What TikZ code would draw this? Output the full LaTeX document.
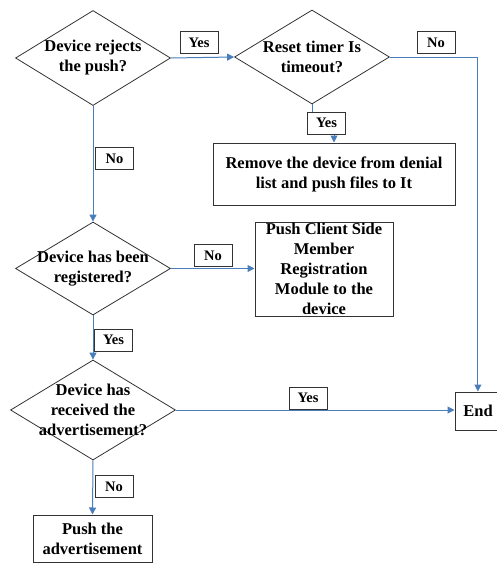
\documentclass[tikz,border=0pt]{standalone}
\usepackage{fontspec}
\setmainfont{Liberation Serif}
\usetikzlibrary{shapes.geometric,arrows.meta,calc}
\definecolor{flow}{HTML}{4A7EBB}
\definecolor{edge}{HTML}{333333}
\begin{document}
\begin{tikzpicture}[x=1pt,y=-1pt,
  txt/.style={font=\fontsize{16.5}{20}\selectfont\bfseries, align=center, inner sep=0pt, text=black},
  dia/.style={diamond, draw=edge, line width=0.8pt, inner sep=0pt, aspect=1.6},
  box/.style={rectangle, draw=edge, line width=1pt, inner sep=0pt},
  tag/.style={rectangle, draw=edge, line width=1pt, minimum width=38pt, minimum height=22pt, inner sep=0pt, font=\fontsize{14.5}{16}\selectfont\bfseries, text=black},
  arr/.style={draw=flow, line width=1pt, -{Triangle[width=7pt,length=7pt]}},
  ln/.style={draw=flow, line width=1pt}]
\useasboundingbox (0,0) rectangle (497,563);
% decisions
\node[dia, minimum width=155pt, minimum height=95pt,
  label={[txt]center:Device rejects\\the push?}] (d1) at (93,58) {};
\node[dia, minimum width=155pt, minimum height=94pt,
  label={[txt]center:Reset timer Is\\timeout?}] (d2) at (312,57) {};
\node[dia, minimum width=155pt, minimum height=93pt,
  label={[txt]center:Device has been\\registered?}] (d3) at (93,268.5) {};
\node[dia, minimum width=165pt, minimum height=100pt,
  label={[txt]center:Device has\\received the\\advertisement?}] (d4) at (93,410) {};
% processes
\node[box, minimum width=242pt, minimum height=62pt,
  label={[txt]center:Remove the device from denial\\list and push files to It}] (rm) at (334,174) {};
\node[box, minimum width=138pt, minimum height=94pt,
  label={[txt]center:Push Client Side\\Member\\Registration\\Module to the\\device}] (pc) at (324,269) {};
\node[box, minimum width=46pt, minimum height=38pt] (end) at (478,411) {};
\node[txt] (endt) at (478,411) {End};
\node[box, minimum width=119pt, minimum height=47pt,
  label={[txt]center:Push the\\advertisement}] (pa) at (92.5,538.5) {};
% connectors
\draw[arr] (d1.east) -- (d2.west);
\draw[ln] (d2.east) -- ++(88,0) coordinate (c1);
\draw[arr] (c1) -- (c1 |- end.north);
\draw[ln] (d2.south) -- ++(0,8) coordinate (c2);
\draw[arr] ($(c2)+(22,22)$) coordinate (c3) -- (c3 |- rm.north);
\draw[arr] (d1.south) -- (d3.north);
\draw[arr] (d3.east) -- (d3.east -| pc.west);
\draw[arr] (d3.south) -- (d4.north);
\draw[arr] (d4.east) -- (d4.east -| end.west);
\draw[arr] (d4.south) -- (pa.north);
% tags
\node[tag] (y1) at (199,42.5) {Yes};
\node[tag] (n2) at (436,42.5) {No};
\node[tag, fill=white] (y2) at (326.5,123) {Yes};
\node[tag] (n1) at (114.5,158.5) {No};
\node[tag] (n3) at (213,255.5) {No};
\node[tag] (y3) at (113.5,340) {Yes};
\node[tag] (y4) at (308,398) {Yes};
\node[tag] (n4) at (114,486.5) {No};
\end{tikzpicture}
\end{document}
